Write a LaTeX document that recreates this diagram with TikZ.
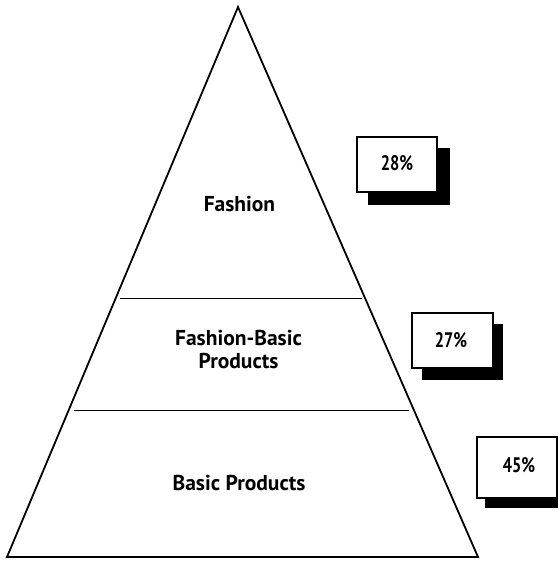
\documentclass[tikz,border=0pt]{standalone}
\usepackage{fontspec}
\setmainfont{PT Sans}
\newfontfamily\pctfont[FakeStretch=0.78]{PT Sans}
\begin{document}
\begin{tikzpicture}[x=1pt,y=-1pt,
  lbl/.style={font=\bfseries\fontsize{21.5}{23}\selectfont, align=center, inner sep=0pt},
  pct/.style={font=\pctfont\bfseries\fontsize{21}{23}\selectfont, inner sep=0pt, anchor=base},
  pbox/.style={draw=black, line width=1.6pt, fill=white},
  shadow/.style={fill=black},
  divider/.style={line width=1pt}]
\useasboundingbox (0,0) rectangle (558,562);
% pyramid
\coordinate (apex) at (238,7);
\coordinate (bl) at (7,557);
\coordinate (br) at (478,557);
\draw[line width=1.8pt, line join=miter] (apex) -- (bl) -- (br) -- cycle;
\coordinate (d1l) at (120,298);
\coordinate (d1r) at (362,298);
\coordinate (d2l) at (74,410);
\coordinate (d2r) at (409,410);
\draw[divider] (d1l) -- (d1r);
\draw[divider] (d2l) -- (d2r);
% labels
\node[lbl, anchor=base] (fashion) at (239.5,211) {Fashion};
\node[lbl] (fb) at (238.5,349.5) {Fashion-Basic\\Products};
\node[lbl, anchor=base] (basic) at (239,490) {Basic Products};
% boxes with shadows
\fill[shadow] (368,148) rectangle (450,205);
\draw[pbox] (357,137) rectangle (437,192);
\node[pct] (p28) at (397,170) {28\%};
\fill[shadow] (422,324) rectangle (503,380);
\draw[pbox] (412,313) rectangle (493,368);
\node[pct] (p27) at (451,347) {27\%};
\fill[shadow] (485,448) rectangle (558,508);
\draw[pbox] (477,437) rectangle (557,498);
\node[pct] (p45) at (519,472) {45\%};
\end{tikzpicture}
\end{document}
